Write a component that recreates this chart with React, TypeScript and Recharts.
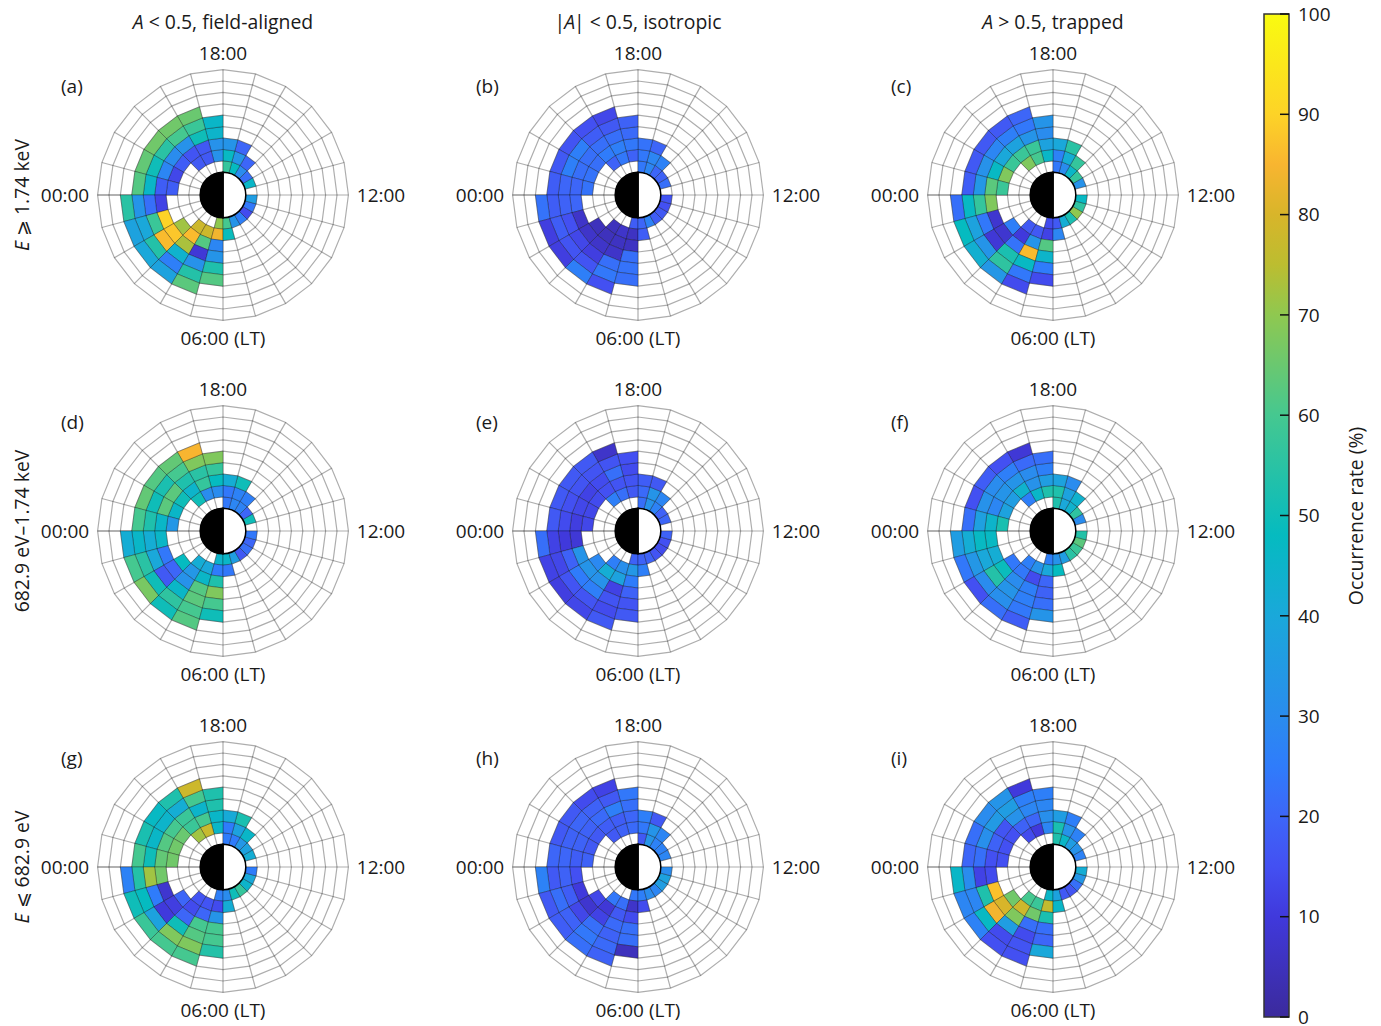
import { Bar, BarChart, Pie, PieChart, PolarGrid, XAxis, YAxis } from 'recharts';

const FONT = '"Open Sans", sans-serif';

// colour bar stops, occurrence rate (%) -> colour
const colorStops: [number, string][] = [
  [0, '#3b2a9c'],
  [10, '#4039dc'],
  [15, '#4350f2'],
  [20, '#3d66f8'],
  [25, '#2f7cfb'],
  [30, '#2a8cee'],
  [40, '#1aa8da'],
  [48, '#05bbc0'],
  [53, '#1fc0ac'],
  [60, '#45c890'],
  [70, '#8fc850'],
  [75, '#bcbd30'],
  [80, '#d8b52a'],
  [85, '#f8b530'],
  [90, '#fdd327'],
  [100, '#f9fb10'],
];
const colorTicks = [0, 10, 20, 30, 40, 50, 60, 70, 80, 90, 100];

// one list per local-time hour, counter-clockwise starting at 12:00
// firstRing says which ring (L shell bin) the list starts on
const firstRing = [0, 0, 0, 0, 0, 0, 1, 1, 1, 2, 2, 2, 3, 3, 2, 1, 1, 0, 0, 0, 0, 0, 0, 0];

const panelA = [[], [46], [22], [30, 20], [48, 33, 20], [57, 47, 33], [32, 32, 45, 46], [17, 17, 50, 58, 65], [17, 16, 32, 60, 66], [18, 30, 55, 66], [13, 28, 50, 64], [18, 18, 46, 62], [12, 22, 33, 55], [90, 58, 40, 38], [72, 88, 86, 54, 40], [78, 86, 73, 44, 26, 38], [78, 62, 9, 32, 54, 63], [70, 84, 28, 33, 53, 62], [60, 49], [33], [26], [14], [24], [36]];
const panelB = [[], [22], [19], [20, 27], [28, 28, 20], [24, 24, 23], [19, 24, 21, 19], [24, 26, 22, 17, 13], [19, 25, 22, 18, 15], [22, 22, 26, 16], [23, 22, 26, 17], [23, 20, 20, 18], [20, 19, 18, 23], [7, 15, 18, 11], [5, 7, 13, 16, 11], [5, 5, 7, 11, 16, 26], [7, 6, 7, 22, 24, 15], [18, 6, 6, 22, 23, 22], [20, 18], [27], [18], [17], [15], [16]];
const panelC = [[], [32], [57], [46, 57], [30, 42, 55], [24, 27, 40], [46, 38, 30, 33], [60, 58, 33, 24, 20], [68, 58, 38, 26, 17], [58, 40, 28, 17], [68, 47, 32, 17], [58, 63, 34, 18], [68, 57, 47, 22], [8, 24, 38, 48], [26, 8, 9, 33, 43], [17, 10, 23, 52, 56, 34], [17, 33, 86, 47, 24, 14], [14, 12, 62, 45, 25, 14], [17, 28], [42], [52], [70], [56], [47]];
const panelD = [[], [50], [20], [27, 26], [28, 27, 50], [24, 24, 42], [30, 48, 57, 68], [30, 57, 55, 68, 85], [50, 45, 53, 60, 64], [50, 63, 52, 62], [46, 63, 50, 64], [34, 46, 53, 60], [46, 42, 46, 42], [24, 40, 55, 60], [48, 20, 17, 50, 67], [42, 34, 32, 46, 56, 50], [40, 46, 62, 63, 60, 62], [45, 25, 53, 68, 60, 50], [46, 24], [36], [17], [22], [20], [24]];
const panelE = [[], [20], [19], [27, 28], [32, 33, 17], [22, 21, 18], [17, 16, 14, 15], [22, 16, 22, 16, 7], [26, 15, 14, 16, 17], [14, 12, 16, 17], [13, 13, 15, 17], [13, 11, 14, 17], [9, 10, 12, 22], [33, 19, 13, 12], [29, 33, 25, 16, 11], [26, 42, 32, 26, 16, 13], [31, 38, 12, 16, 14, 17], [19, 34, 25, 19, 16, 17], [19, 26], [19], [16], [14], [15], [19]];
const panelF = [[], [30], [56], [44, 44], [40, 38, 30], [53, 53, 38], [53, 36, 26, 22], [46, 32, 30, 21, 9], [26, 44, 33, 26, 15], [36, 33, 30, 18], [38, 28, 32, 15], [52, 45, 37, 22], [47, 47, 42, 36], [42, 40, 34, 24], [24, 49, 54, 30, 15], [26, 24, 30, 33, 31, 22], [32, 14, 26, 26, 24, 18], [26, 40, 20, 19, 22, 33], [32, 48], [36], [55], [58], [63], [54]];
const panelG = [[], [42], [38], [34, 46], [25, 38, 52], [25, 25, 41], [46, 46, 53, 53], [77, 60, 45, 60, 78], [72, 58, 58, 42, 53], [65, 60, 45, 47], [66, 62, 46, 52], [66, 64, 50, 60], [66, 72, 54, 27], [8, 25, 48, 50], [20, 11, 10, 38, 58], [16, 14, 20, 50, 68, 60], [16, 20, 60, 62, 68, 60], [26, 14, 33, 60, 60, 54], [30, 42], [50], [57], [45], [40], [25]];
const panelH = [[], [28], [27], [27, 28], [33, 33, 17], [17, 24, 26], [21, 20, 22, 24], [19, 18, 26, 17, 12], [17, 18, 21, 19, 14], [17, 19, 20, 17], [17, 19, 19, 17], [19, 18, 20, 20], [15, 19, 17, 27], [10, 18, 22, 17], [13, 8, 13, 19, 18], [24, 9, 12, 22, 24, 22], [22, 17, 21, 19, 21, 19], [24, 7, 14, 22, 22, 5], [26, 14], [30], [28], [36], [38], [30]];
const panelI = [[], [27], [32], [36, 27], [46, 32, 26], [53, 52, 36], [28, 31, 28, 26], [10, 20, 28, 26, 10], [14, 19, 32, 36, 33], [15, 16, 35, 30], [15, 19, 31, 22], [15, 15, 22, 20], [14, 12, 30, 46], [87, 53, 28, 28], [66, 80, 84, 47, 27], [60, 78, 68, 36, 14, 15], [58, 66, 22, 14, 16, 15], [46, 76, 52, 22, 20, 40], [38, 46], [17], [16], [22], [34], [42]];

const panelLetters = ['(a)', '(b)', '(c)', '(d)', '(e)', '(f)', '(g)', '(h)', '(i)'];
const panelValues = [panelA, panelB, panelC, panelD, panelE, panelF, panelG, panelH, panelI];

const columnCenters = [222.7, 637.8, 1052.8];
const rowCenters = [195, 531, 867];

const RING_COUNT = 7;
const SECTOR_COUNT = 24;
const LT_START = 2; // innermost L shell drawn, at the day/night disc
const LT_END = 11;
const PX_PER_L = 11.4;
const CHART_W = 400;
const CHART_H = 340;
const CX = CHART_W / 2;
const CY = CHART_H / 2;

const rOf = (l: number) => l * PX_PER_L;
const gridAngles = Array.from({ length: SECTOR_COUNT }, (_, i) => (i * 360) / SECTOR_COUNT);
const gridRadii = Array.from({ length: LT_END - LT_START + 1 }, (_, i) => rOf(LT_START + i));
const midnightAngle = [180];

function hexToRgb(h: string) {
  return [1, 3, 5].map((i) => parseInt(h.slice(i, i + 2), 16));
}

function rateColor(v: number) {
  for (let i = 1; i < colorStops.length; i++) {
    const [v1, c1] = colorStops[i];
    if (v <= v1) {
      const [v0, c0] = colorStops[i - 1];
      const t = (v - v0) / (v1 - v0);
      const a = hexToRgb(c0);
      const b = hexToRgb(c1);
      return `rgb(${a.map((x, k) => Math.round(x + (b[k] - x) * t)).join(',')})`;
    }
  }
  return colorStops[colorStops.length - 1][1];
}

// matplotlib draws the bins with straight edges, so the sector is a trapezoid
function TrapezoidCell(props: any) {
  const { cx, cy, innerRadius, outerRadius, startAngle, endAngle, fill } = props;
  if (fill === 'none') return null;
  const pt = (r: number, deg: number) => {
    const a = (deg * Math.PI) / 180;
    return `${cx + r * Math.cos(a)},${cy - r * Math.sin(a)}`;
  };
  const points = [
    pt(innerRadius, startAngle),
    pt(outerRadius, startAngle),
    pt(outerRadius, endAngle),
    pt(innerRadius, endAngle),
  ].join(' ');
  return <polygon points={points} fill={fill} stroke="#000" strokeOpacity={0.28} strokeWidth={1} />;
}

function ringData(values: number[][], ring: number) {
  return values.map((list, sector) => {
    const v = list[ring - firstRing[sector]];
    return { span: 1, rate: v, fill: v === undefined ? 'none' : rateColor(v) };
  });
}

const discData = [
  { side: 'day', span: 1, fill: '#fff' },
  { side: 'night', span: 1, fill: '#000' },
];

function Panel({ values, letter, x, y }: { values: number[][]; letter: string; x: number; y: number }) {
  const textProps = { fontFamily: FONT, fontSize: 19, fill: '#1a1a1a' };
  return (
    <div style={{ position: 'absolute', left: x - CX, top: y - CY }}>
      <PieChart
        width={CHART_W}
        height={CHART_H}
        margin={{ top: 0, right: 0, bottom: 0, left: 0 }}
        cx={CX}
        cy={CY}
        innerRadius={rOf(LT_START)}
        outerRadius={rOf(LT_END)}
      >
        {Array.from({ length: RING_COUNT }, (_, ring) => (
          <Pie
            key={ring}
            data={ringData(values, ring)}
            dataKey="span"
            cx={CX}
            cy={CY}
            innerRadius={rOf(LT_START + ring)}
            outerRadius={rOf(LT_START + ring + 1)}
            startAngle={0}
            endAngle={360}
            stroke="none"
            shape={TrapezoidCell}
            isAnimationActive={false}
          />
        ))}
        <PolarGrid
          gridType="polygon"
          polarAngles={gridAngles}
          polarRadius={gridRadii}
          stroke="#000"
          strokeOpacity={0.32}
          strokeWidth={1.2}
        />
        <PolarGrid
          gridType="polygon"
          polarAngles={midnightAngle}
          polarRadius={[]}
          stroke="#000"
          strokeOpacity={0.35}
          strokeWidth={1.2}
        />
        <Pie
          data={discData}
          dataKey="span"
          cx={CX}
          cy={CY}
          innerRadius={0}
          outerRadius={rOf(LT_START)}
          startAngle={-90}
          endAngle={270}
          stroke="#000"
          strokeWidth={1.5}
          isAnimationActive={false}
        />
        <text x={CX} y={CY - 142} textAnchor="middle" dominantBaseline="central" {...textProps}>18:00</text>
        <text x={CX} y={CY + 143} textAnchor="middle" dominantBaseline="central" {...textProps}>06:00 (LT)</text>
        <text x={CX - 158} y={CY} textAnchor="middle" dominantBaseline="central" {...textProps}>00:00</text>
        <text x={CX + 158} y={CY} textAnchor="middle" dominantBaseline="central" {...textProps}>12:00</text>
        <text x={CX - 162} y={CY - 109} textAnchor="start" dominantBaseline="central" {...textProps}>{letter}</text>
      </PieChart>
    </div>
  );
}

function ColorBar() {
  return (
    <div style={{ position: 'absolute', left: 1254, top: 0 }}>
      <BarChart
        width={127}
        height={1026}
        data={[{ name: 'rate', top: 100 }]}
        margin={{ top: 14, right: 0, bottom: 9, left: 10 }}
        barCategoryGap={0}
      >
        <defs>
          <linearGradient id="rateGradient" x1="0" y1="1" x2="0" y2="0">
            {colorStops.map(([v, c]) => (
              <stop key={v} offset={`${v}%`} stopColor={c} />
            ))}
          </linearGradient>
        </defs>
        <XAxis dataKey="name" hide />
        <YAxis
          orientation="right"
          width={92}
          domain={[0, 100]}
          ticks={colorTicks}
          interval={0}
          axisLine={false}
          tickSize={-9}
          tickMargin={18}
          tickLine={{ stroke: '#111', strokeWidth: 1.5 }}
          tick={{ fontFamily: FONT, fontSize: 19, fill: '#1a1a1a', textAnchor: 'start' }}
        />
        <Bar dataKey="top" fill="url(#rateGradient)" stroke="#333" strokeWidth={1.5} isAnimationActive={false} />
      </BarChart>
    </div>
  );
}

const labelStyle: any = {
  position: 'absolute',
  fontFamily: FONT,
  fontSize: 19.4,
  color: '#1a1a1a',
  whiteSpace: 'nowrap',
  lineHeight: 1,
};

function SideLabel({ x, y, children }: any) {
  return (
    <div style={{ ...labelStyle, left: x, top: y, transform: 'translate(-50%, -50%) rotate(-90deg)' }}>{children}</div>
  );
}

function Title({ x, y, children }: any) {
  return <div style={{ ...labelStyle, left: x, top: y, transform: 'translate(-50%, -50%)' }}>{children}</div>;
}

export default function App() {
  return (
    <div style={{ position: 'absolute', left: 0, top: 0, width: 1381, height: 1026, overflow: 'hidden', background: '#fff' }}>
      {panelValues.map((values, i) => (
        <Panel
          key={panelLetters[i]}
          values={values}
          letter={panelLetters[i]}
          x={columnCenters[i % 3]}
          y={rowCenters[Math.floor(i / 3)]}
        />
      ))}
      <Title x={223} y={22}><i>A</i> &lt; 0.5, field-aligned</Title>
      <Title x={638} y={22}>|<i style={{ marginLeft: -1, marginRight: -1 }}>A</i>| &lt; 0.5, isotropic</Title>
      <Title x={1053} y={22}><i>A</i> &gt; 0.5, trapped</Title>
      <SideLabel x={22} y={195}><i>E</i> ⩾ 1.74 keV</SideLabel>
      <SideLabel x={22} y={531}>682.9 eV–1.74 keV</SideLabel>
      <SideLabel x={22} y={867}><i>E</i> ⩽ 682.9 eV</SideLabel>
      <ColorBar />
      <SideLabel x={1356} y={516}>Occurrence rate (%)</SideLabel>
    </div>
  );
}
